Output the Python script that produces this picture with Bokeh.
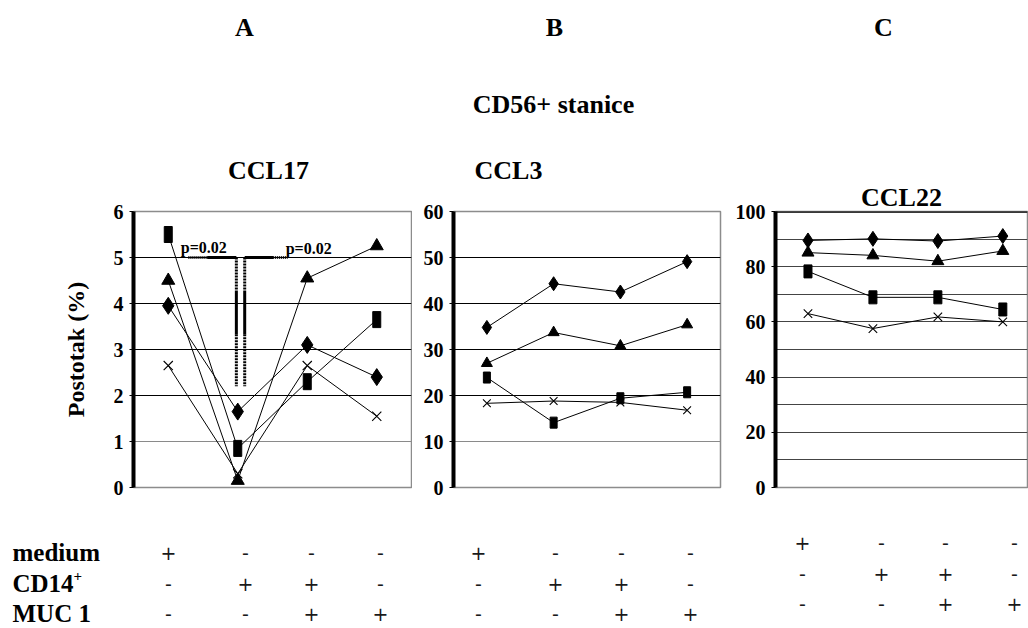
from bokeh.plotting import figure
from bokeh.layouts import column, row
from bokeh.models import Range1d, FixedTicker, Grid, Span, Title
from bokeh.core.properties import value
from bokeh.embed import file_html
from bokeh.resources import INLINE

# ---------------- data ----------------
conditions = [1, 2, 3, 4]

ccl17_diamond = [3.95, 1.65, 3.1, 2.4]
ccl17_triangle = [4.5, 0.15, 4.55, 5.25]
ccl17_square = [5.5, 0.85, 2.3, 3.65]
ccl17_x = [2.65, 0.3, 2.65, 1.55]

ccl3_diamond = [34.8, 44.3, 42.5, 49.1]
ccl3_triangle = [27.0, 33.7, 30.8, 35.4]
ccl3_square = [23.9, 14.1, 19.4, 20.7]
ccl3_x = [18.3, 18.8, 18.5, 16.8]

ccl22_diamond = [89.5, 90.1, 89.3, 91.1]
ccl22_triangle = [85.1, 84.1, 82.0, 85.7]
ccl22_square = [78.3, 68.9, 68.9, 64.5]
ccl22_x = [63.0, 57.6, 61.8, 60.0]

ccl17_ticks = [0, 1, 2, 3, 4, 5, 6]
ccl3_ticks = [0, 10, 20, 30, 40, 50, 60]
ccl22_ticks = [0, 20, 40, 60, 80, 100]

p_label = "p=0.02"
sig_level = 5.0       # level of the significance bracket
sig_bottom = 2.2      # lower end of the bracket legs

row_labels = ["medium", "CD14", "MUC 1"]
medium = ["+", "-", "-", "-"]
cd14 = ["-", "+", "+", "-"]
muc1 = ["-", "-", "+", "+"]

panel_letters = ["A", "B", "C"]
main_title = "CD56+ stanice"
panel_titles = ["CCL17", "CCL3", "CCL22"]
y_label = "Postotak (%)"

SERIF = "Liberation Serif"
TOP_AB = 197          # header height above panels A and B
TOP_C = 151           # header height above panel C (its title lives in the panel)
FRAME_TOP = 211
ROW_BOTTOM = 530


def panel(width, bl, br, ymax, ticks, xend, grid_dark, grid_light, grid_color, top_h):
    bt = FRAME_TOP - top_h
    p = figure(width=width, height=ROW_BOTTOM - top_h, x_range=Range1d(0.5, xend),
               y_range=Range1d(0, ymax), output_backend="svg", toolbar_location=None,
               x_axis_location=None, title=None, min_border_left=bl, min_border_right=br,
               min_border_top=bt, min_border_bottom=43)
    p.xgrid.visible = False
    p.ygrid.visible = False
    p.add_layout(Grid(dimension=1, ticker=FixedTicker(ticks=grid_dark),
                      grid_line_color=grid_color, grid_line_width=1.2))
    if grid_light:
        p.add_layout(Grid(dimension=1, ticker=FixedTicker(ticks=grid_light),
                          grid_line_color="#8a8a8a", grid_line_width=1.2))
    ax = p.yaxis[0]
    ax.ticker = FixedTicker(ticks=ticks)
    ax.axis_line_width = 4
    ax.axis_line_color = "black"
    ax.major_tick_out = 4
    ax.major_tick_in = 0
    ax.major_tick_line_color = "black"
    ax.minor_tick_line_color = None
    ax.major_label_text_font = SERIF
    ax.major_label_text_font_style = "bold"
    ax.major_label_text_font_size = "20px"
    ax.major_label_text_color = "black"
    ax.major_label_standoff = 6
    p.outline_line_color = "#8c8c8c"
    p.outline_line_width = 1.5
    return p


def draw_series(p, diamond, triangle, square, xs, sizes):
    dsz, tsz, sqw, sqh, xsz = sizes
    for ys in (diamond, triangle, square, xs):
        p.line(conditions, ys, line_color="black", line_width=1)
    p.scatter(conditions, diamond, marker="diamond", size=dsz, color="black")
    p.scatter(conditions, triangle, marker="triangle", size=tsz, color="black")
    p.rect(conditions, square, width=sqw, height=sqh, width_units="screen",
           height_units="screen", color="black")
    p.scatter(conditions, xs, marker="x", size=xsz, line_color="black", line_width=1.1)


def header(width, height):
    h = figure(width=width, height=height, x_range=Range1d(0, width),
               y_range=Range1d(height, 0), output_backend="svg", toolbar_location=None,
               x_axis_location=None, y_axis_location=None, min_border=0, title=None,
               outline_line_color=None)
    h.grid.visible = False
    return h


def header_text(h, xs, ys, texts):
    h.text(x=xs, y=ys, text=texts, text_font=value(SERIF), text_font_style="bold",
           text_font_size="26px", text_align="center", text_baseline="middle",
           text_color="black")


# ---------------- panel A ----------------
pa = panel(412, 133, 1, 6, ccl17_ticks, 4.5, [2, 3, 4, 5], [1], "black", TOP_AB)
pa.yaxis[0].axis_label = y_label
pa.yaxis[0].axis_label_text_font = SERIF
pa.yaxis[0].axis_label_text_font_style = "bold"
pa.yaxis[0].axis_label_text_font_size = "24px"
pa.yaxis[0].axis_label_text_color = "black"
pa.yaxis[0].axis_label_standoff = 22
draw_series(pa, ccl17_diamond, ccl17_triangle, ccl17_square, ccl17_x, (17, 13, 8, 16, 13))

# significance bracket
pa.segment(x0=[1.29], y0=[sig_level], x1=[1.56], y1=[sig_level], line_color="black",
           line_width=3, line_dash="1 1")
pa.segment(x0=[1.56, 2.10], y0=[sig_level] * 2, x1=[1.98, 2.51], y1=[sig_level] * 2,
           line_color="black", line_width=3)
pa.segment(x0=[2.51], y0=[sig_level], x1=[2.72], y1=[sig_level], line_color="black",
           line_width=3, line_dash="1 1")
for xv in (1.98, 2.10):
    pa.segment(x0=[xv], y0=[sig_level], x1=[xv], y1=[4.28], line_color="black",
               line_width=3, line_dash="2 1")
    pa.segment(x0=[xv], y0=[4.28], x1=[xv], y1=[3.33], line_color="black", line_width=3)
    pa.segment(x0=[xv], y0=[3.33], x1=[xv], y1=[sig_bottom], line_color="black",
               line_width=3, line_dash="2 1")
pa.text(x=[1.18, 2.69], y=[5.04, 5.02], text=[p_label, p_label], text_font=value(SERIF),
        text_font_style="bold", text_font_size="16px", text_baseline="bottom",
        text_align="left", text_color="black")

# ---------------- panel B ----------------
pb = panel(310, 41, 2, 60, ccl3_ticks, 4.5, [20, 30, 40, 50], [10], "black", TOP_AB)
draw_series(pb, ccl3_diamond, ccl3_triangle, ccl3_square, ccl3_x, (14, 11, 7, 11, 11))

# ---------------- panel C ----------------
pc = panel(306, 53, 1, 100, ccl22_ticks, 4.38,
           [10, 20, 30, 40, 50, 60, 70, 80, 90], None, "#444444", TOP_C)
pc.add_layout(Span(location=100, dimension="width", line_color="black", line_width=2.5))
draw_series(pc, ccl22_diamond, ccl22_triangle, ccl22_square, ccl22_x, (15, 12, 8, 13, 12))
pc.add_layout(Title(text=panel_titles[2], text_font=SERIF, text_font_style="bold",
                    text_font_size="26px", text_color="black", align="center", offset=-6,
                    standoff=0, vertical_align="bottom"), "above")

# ---------------- headers ----------------
top_ab = header(722, TOP_AB)
header_text(top_ab, [244, 554], [27, 27], panel_letters[:2])
header_text(top_ab, [553], [104], [main_title])
header_text(top_ab, [268, 508], [170, 170], panel_titles[:2])

top_c = header(306, TOP_C)
header_text(top_c, [131], [27], panel_letters[2:])

# ---------------- condition table ----------------
tab = figure(width=1028, height=98, x_range=Range1d(0, 1028), y_range=Range1d(628, 530),
             output_backend="svg", toolbar_location=None, x_axis_location=None,
             y_axis_location=None, min_border=0, title=None, outline_line_color=None)
tab.grid.visible = False
row_y = [552, 583, 613]
tab.text(x=[12] * 3, y=row_y, text=row_labels, text_font=value(SERIF), text_font_style="bold",
         text_font_size="25px", text_align="left", text_baseline="middle", text_color="black")
tab.text(x=[73], y=[575], text=["+"], text_font=value(SERIF), text_font_style="bold",
         text_font_size="15px", text_align="left", text_baseline="middle", text_color="black")

col_x = {"A": [168, 245, 311, 380], "B": [478, 555, 621, 690], "C": [802, 881, 945, 1014]}
row_shift = {"A": 0, "B": 0, "C": -10}
sx, sy, st = [], [], []
for key in ["A", "B", "C"]:
    for ry, vals in zip(row_y, [medium, cd14, muc1]):
        for cx, v in zip(col_x[key], vals):
            sx.append(cx)
            sy.append(ry + row_shift[key])
            st.append(v)
tab.text(x=sx, y=sy, text=st, text_font=value("DejaVu Sans"), text_font_size="19px",
         text_align="center", text_baseline="middle", text_color="#1a1a1a")

layout = column(row(column(top_ab, row(pa, pb)), column(top_c, pc)), tab)
open("out.html", "w").write(file_html(layout, INLINE))
